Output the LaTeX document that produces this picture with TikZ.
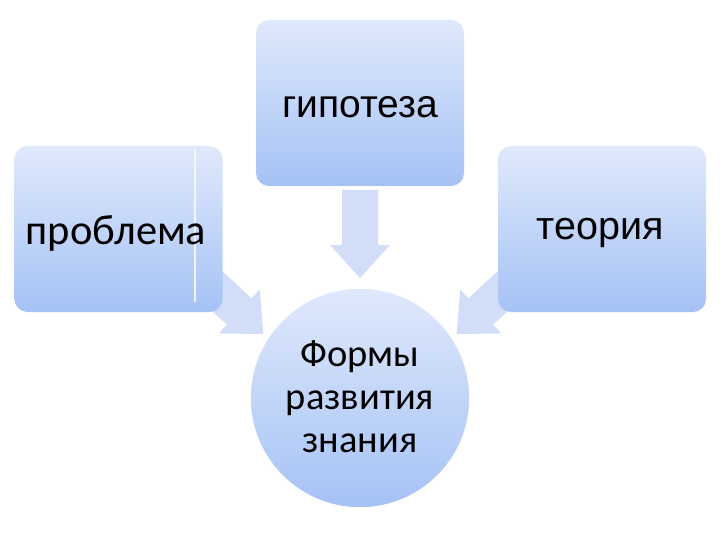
\documentclass[tikz,border=0pt]{standalone}
\usepackage{fontspec}
\setmainfont{Carlito}
\newfontfamily\arialfont{Liberation Sans}
\newfontfamily\califont{Carlito}
\definecolor{boxtop}{HTML}{E0E9FC}
\definecolor{boxbot}{HTML}{A5C2F5}
\definecolor{arrowcol}{HTML}{D2DEF8}
\begin{document}
\begin{tikzpicture}[x=1pt,y=-1pt,
  box/.style={rounded corners=13pt, top color=boxtop, bottom color=boxbot,
    minimum width=208pt, minimum height=166pt, inner sep=0pt, text=black},
  blockarrow/.style={fill=arrowcol, draw=none},
  circ/.style={circle, minimum size=220pt, inner sep=0pt, top color=boxtop,
    bottom color=boxbot, draw=white, line width=1.5pt},
  label/.style={text=black, inner sep=0pt, align=center}]
\useasboundingbox[fill=white] (0,0) rectangle (720,540);

% block arrows
\coordinate (ahyp) at (360,190);
\coordinate (aprob) at (199,274);
\coordinate (ateor) at (521,274);
\foreach \c/\r in {ahyp/-90, aprob/-43, ateor/-137}{
  \path[blockarrow, shift={(\c)}, rotate=\r]
    (0,-18) -- (55,-18) -- (55,-30) -- (88,0) -- (55,30) -- (55,18) -- (0,18) -- cycle;
}

% boxes
\node[box] (hyp) at (360,103) {};
\node[label, font=\arialfont\fontsize{39}{46}\selectfont] at (360,107) {гипотеза};
\node[box] (prob) at (118.5,229) {};
\draw[white!85!boxbot, line width=1.2pt] (195,148) -- (195,302);
\node[label, font=\califont\fontsize{42.5}{50}\selectfont] at (116,233) {проблема};
\node[box] (teor) at (602,229) {};
\node[label, font=\arialfont\fontsize{39.5}{46}\selectfont] at (600,233) {теория};

% circle
\node[circ] (forms) at (360,398) {};
\node[label, font=\califont\fontsize{38.5}{43}\selectfont] at (360,397) {Формы\\ развития\\ знания};
\end{tikzpicture}
\end{document}
